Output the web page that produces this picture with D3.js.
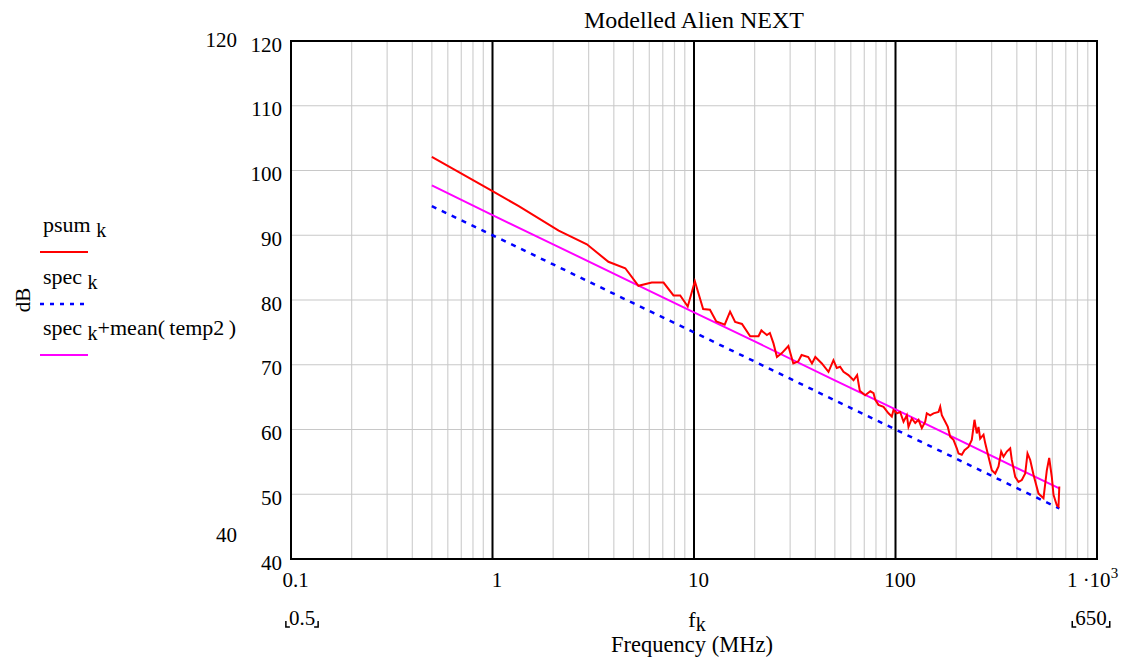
<!DOCTYPE html>
<html>
<head>
<meta charset="utf-8">
<script src="https://cdn.jsdelivr.net/npm/d3@7"></script>
<style>
body { margin: 0; background: #fff; }
text { font-family: "Liberation Serif", "Times New Roman", serif; fill: #000; }
</style>
</head>
<body>
<div id="chart"></div>
<script>
// psum_k (red)
var psumFreq = [0.5, 1.0, 1.35, 2.13, 2.94, 3.76, 4.56, 5.3, 6.17, 7.06, 7.91, 8.54, 9.31, 10.1, 11.1, 12.0, 12.9, 13.7, 14.2,
    15.1, 16.0, 17.3, 19.0, 20.9, 21.6, 23.0, 23.8, 24.8, 25.8, 27.3, 29.4, 31.1, 32.9, 34.2, 36.9, 38.5, 40.0, 43.1,
    46.5, 49.2, 51.1, 53.1, 55.2, 58.4, 61.9, 64.5, 66.5, 70.7, 75.0, 77.8, 79.3, 82.3, 87.2, 92.3, 95.9, 97.7,
    101.5, 105.5, 109.6, 113.8, 116.0, 120.5, 125.3, 130.1, 135.1, 140.4, 143.0, 148.7, 154.4, 163.5, 166.7, 169.8,
    176.5, 181.8, 186.8, 194.0, 201.5, 205.5, 213.3, 220.0, 230.3, 239.1, 246.6, 253.2, 258.2, 263.2, 273.4, 278.7,
    289.4, 300.6, 312.5, 324.5, 334.6, 343.6, 356.8, 370.9, 377.7, 392.7, 407.8, 423.5, 440.3, 452.0, 466.2, 484.1,
    512.5, 542.6, 563.5, 579.1, 596.6, 608.3, 631.7, 644.1, 650];
var psumDb = [102.1, 96.8, 94.5, 90.7, 88.6, 85.9, 84.9, 82.2, 82.7, 82.7, 80.7, 80.7, 79.0, 82.9, 78.6, 78.5, 76.7, 76.4, 76.2,
    78.2, 76.6, 76.3, 74.4, 74.4, 75.3, 74.6, 74.9, 73.3, 71.2, 71.8, 72.9, 70.2, 70.5, 71.5, 71.2, 70.2, 71.2, 70.2,
    68.9, 70.7, 69.5, 69.7, 68.9, 68.4, 67.6, 68.4, 66.0, 65.3, 65.9, 65.6, 64.6, 63.8, 63.5, 62.5, 62.0, 63.0,
    62.5, 62.7, 61.2, 62.2, 60.4, 61.7, 61.0, 61.5, 60.2, 61.2, 62.5, 62.2, 62.5, 62.7, 63.5, 62.2,
    61.2, 60.4, 58.9, 58.4, 57.1, 56.3, 56.1, 56.8, 57.3, 58.4, 61.5, 59.4, 60.4, 58.6, 59.2, 57.9,
    55.8, 53.7, 53.2, 54.3, 56.6, 55.8, 56.6, 57.1, 55.3, 52.7, 51.9, 52.2, 53.2, 56.3, 55.3, 53.0,
    50.1, 49.4, 53.7, 55.6, 52.7, 49.9, 48.3, 48.1, 51.2];

// spec_k (blue dashed) and spec_k + mean(temp2) (magenta)
var specFreq = [0.5, 1, 2, 5, 10, 20, 50, 100, 200, 500, 650];
var specDb = [94.5, 90.0, 85.5, 79.5, 75.0, 70.5, 64.5, 60.0, 55.5, 49.5, 47.8];
var specMeanDb = [97.7, 93.1, 88.6, 82.6, 78.1, 73.6, 67.6, 63.1, 58.6, 52.6, 50.9];

var xTicks = [0.1, 1, 10, 100, 1000];
var xMajor = [1, 10, 100];
var yTicks = [40, 50, 60, 70, 80, 90, 100, 110, 120];

var serif = '"Liberation Serif", "Times New Roman", serif';
var width = 1121, height = 658;
var pLeft = 291, pRight = 1097, pTop = 41, pBottom = 559;

var svg = d3.select('#chart')
    .append('svg')
    .attr('width', width)
    .attr('height', height)
    .attr('font-family', serif)

var x = d3.scaleLog().domain([0.1, 1000]).range([pLeft, pRight])
var y = d3.scaleLinear().domain([40, 120]).range([pBottom, pTop])

// grid
svg.append('g').selectAll('line')
    .data(x.ticks())
    .enter().append('line')
    .attr('x1', d => x(d)).attr('x2', d => x(d))
    .attr('y1', pTop).attr('y2', pBottom)
    .attr('stroke', '#d0d0d0').attr('stroke-width', 1.2)

svg.append('g').selectAll('line')
    .data(yTicks)
    .enter().append('line')
    .attr('x1', pLeft).attr('x2', pRight)
    .attr('y1', d => y(d)).attr('y2', d => y(d))
    .attr('stroke', '#c8c8c8').attr('stroke-width', 1.2)

svg.append('g').selectAll('line')
    .data(xMajor)
    .enter().append('line')
    .attr('x1', d => x(d)).attr('x2', d => x(d))
    .attr('y1', pTop).attr('y2', pBottom)
    .attr('stroke', '#000').attr('stroke-width', 2)

svg.append('rect')
    .attr('x', pLeft).attr('y', pTop)
    .attr('width', pRight - pLeft).attr('height', pBottom - pTop)
    .attr('fill', 'none').attr('stroke', '#000').attr('stroke-width', 2)

// series
var line = d3.line().x(d => x(d[0])).y(d => y(d[1]))

svg.append('path')
    .datum(specFreq.map((f, i) => [f, specDb[i]]))
    .attr('d', line)
    .attr('fill', 'none').attr('stroke', '#0000ff').attr('stroke-width', 2.5)
    .attr('stroke-dasharray', '5,6')

svg.append('path')
    .datum(specFreq.map((f, i) => [f, specMeanDb[i]]))
    .attr('d', line)
    .attr('fill', 'none').attr('stroke', '#ff00ff').attr('stroke-width', 2)

svg.append('path')
    .datum(psumFreq.map((f, i) => [f, psumDb[i]]))
    .attr('d', line)
    .attr('fill', 'none').attr('stroke', '#ff0000').attr('stroke-width', 2)

// axes
var xAxis = svg.append('g')
    .attr('transform', 'translate(4,' + pBottom + ')')
    .call(d3.axisBottom(x).tickValues(xTicks).tickSize(0).tickPadding(13)
        .tickFormat(d => d >= 1000 ? '' : d3.format('~g')(d)))
xAxis.attr('font-family', serif).attr('font-size', 21)
xAxis.select('.domain').remove()
xAxis.selectAll('.tick').filter(d => d === 1000).select('text')
    .attr('dx', -9)
    .call(t => {
        t.append('tspan').text('1 ·10')
        t.append('tspan').attr('dy', -9).attr('font-size', 15).text('3')
    })

var yAxis = svg.append('g')
    .attr('transform', 'translate(' + pLeft + ',0)')
    .call(d3.axisLeft(y).tickValues(yTicks).tickSize(0).tickPadding(9))
yAxis.attr('font-family', serif).attr('font-size', 21)
yAxis.select('.domain').remove()
yAxis.selectAll('text').attr('y', 3.5)

// axis limit labels
svg.append('text').attr('x', 237).attr('y', 47).attr('text-anchor', 'end')
    .attr('font-size', 21).text('120')
svg.append('text').attr('x', 237).attr('y', 542).attr('text-anchor', 'end')
    .attr('font-size', 21).text('40')

function bracketed(label, cx, by) {
    var t = svg.append('text').attr('x', cx).attr('y', by)
        .attr('text-anchor', 'middle').attr('font-size', 21).text(label)
    var b = t.node().getBBox()
    var x0 = b.x - 3, x1 = b.x + b.width + 3, yb = by + 2
    svg.append('path').attr('d', 'M' + x0 + ',' + (yb - 6) + 'V' + yb + 'H' + (x0 + 4))
        .attr('fill', 'none').attr('stroke', '#000').attr('stroke-width', 1.5)
    svg.append('path').attr('d', 'M' + x1 + ',' + (yb - 6) + 'V' + yb + 'H' + (x1 - 4))
        .attr('fill', 'none').attr('stroke', '#000').attr('stroke-width', 1.5)
}
bracketed('0.5', 302, 625)
bracketed('650', 1091, 625)

var fk = svg.append('text').attr('x', 697).attr('y', 627)
    .attr('text-anchor', 'middle').attr('font-size', 22)
fk.append('tspan').text('f')
fk.append('tspan').attr('dy', 4).attr('font-size', 20).text('k')

svg.append('text').attr('x', 692).attr('y', 652)
    .attr('text-anchor', 'middle').attr('font-size', 22.5).text('Frequency (MHz)')

svg.append('text').attr('x', 694).attr('y', 28)
    .attr('text-anchor', 'middle').attr('font-size', 24).text('Modelled Alien NEXT')

svg.append('text')
    .attr('transform', 'translate(30,300) rotate(-90)')
    .attr('text-anchor', 'middle').attr('font-size', 21).text('dB')

// legend
var legend = [
    {name: 'psum', rest: '', color: '#ff0000', dash: null, ty: 232, ly: 252},
    {name: 'spec', rest: '', color: '#0000ff', dash: '4,6', ty: 284, ly: 304},
    {name: 'spec', rest: '+mean(\u2009temp2\u2009)', color: '#ff00ff', dash: null, ty: 335, ly: 355}
]
legend.forEach(function(l) {
    var t = svg.append('text').attr('x', 43).attr('y', l.ty).attr('font-size', 22)
    t.append('tspan').text(l.name + ' ')
    t.append('tspan').attr('dy', 5).attr('font-size', 20).text('k')
    if (l.rest) t.append('tspan').attr('dy', -5).attr('font-size', 22).text(l.rest)
    svg.append('line')
        .attr('x1', 40).attr('x2', 88).attr('y1', l.ly).attr('y2', l.ly)
        .attr('stroke', l.color).attr('stroke-width', l.dash ? 2.5 : 2)
        .attr('stroke-dasharray', l.dash)
})
</script>
</body>
</html>
